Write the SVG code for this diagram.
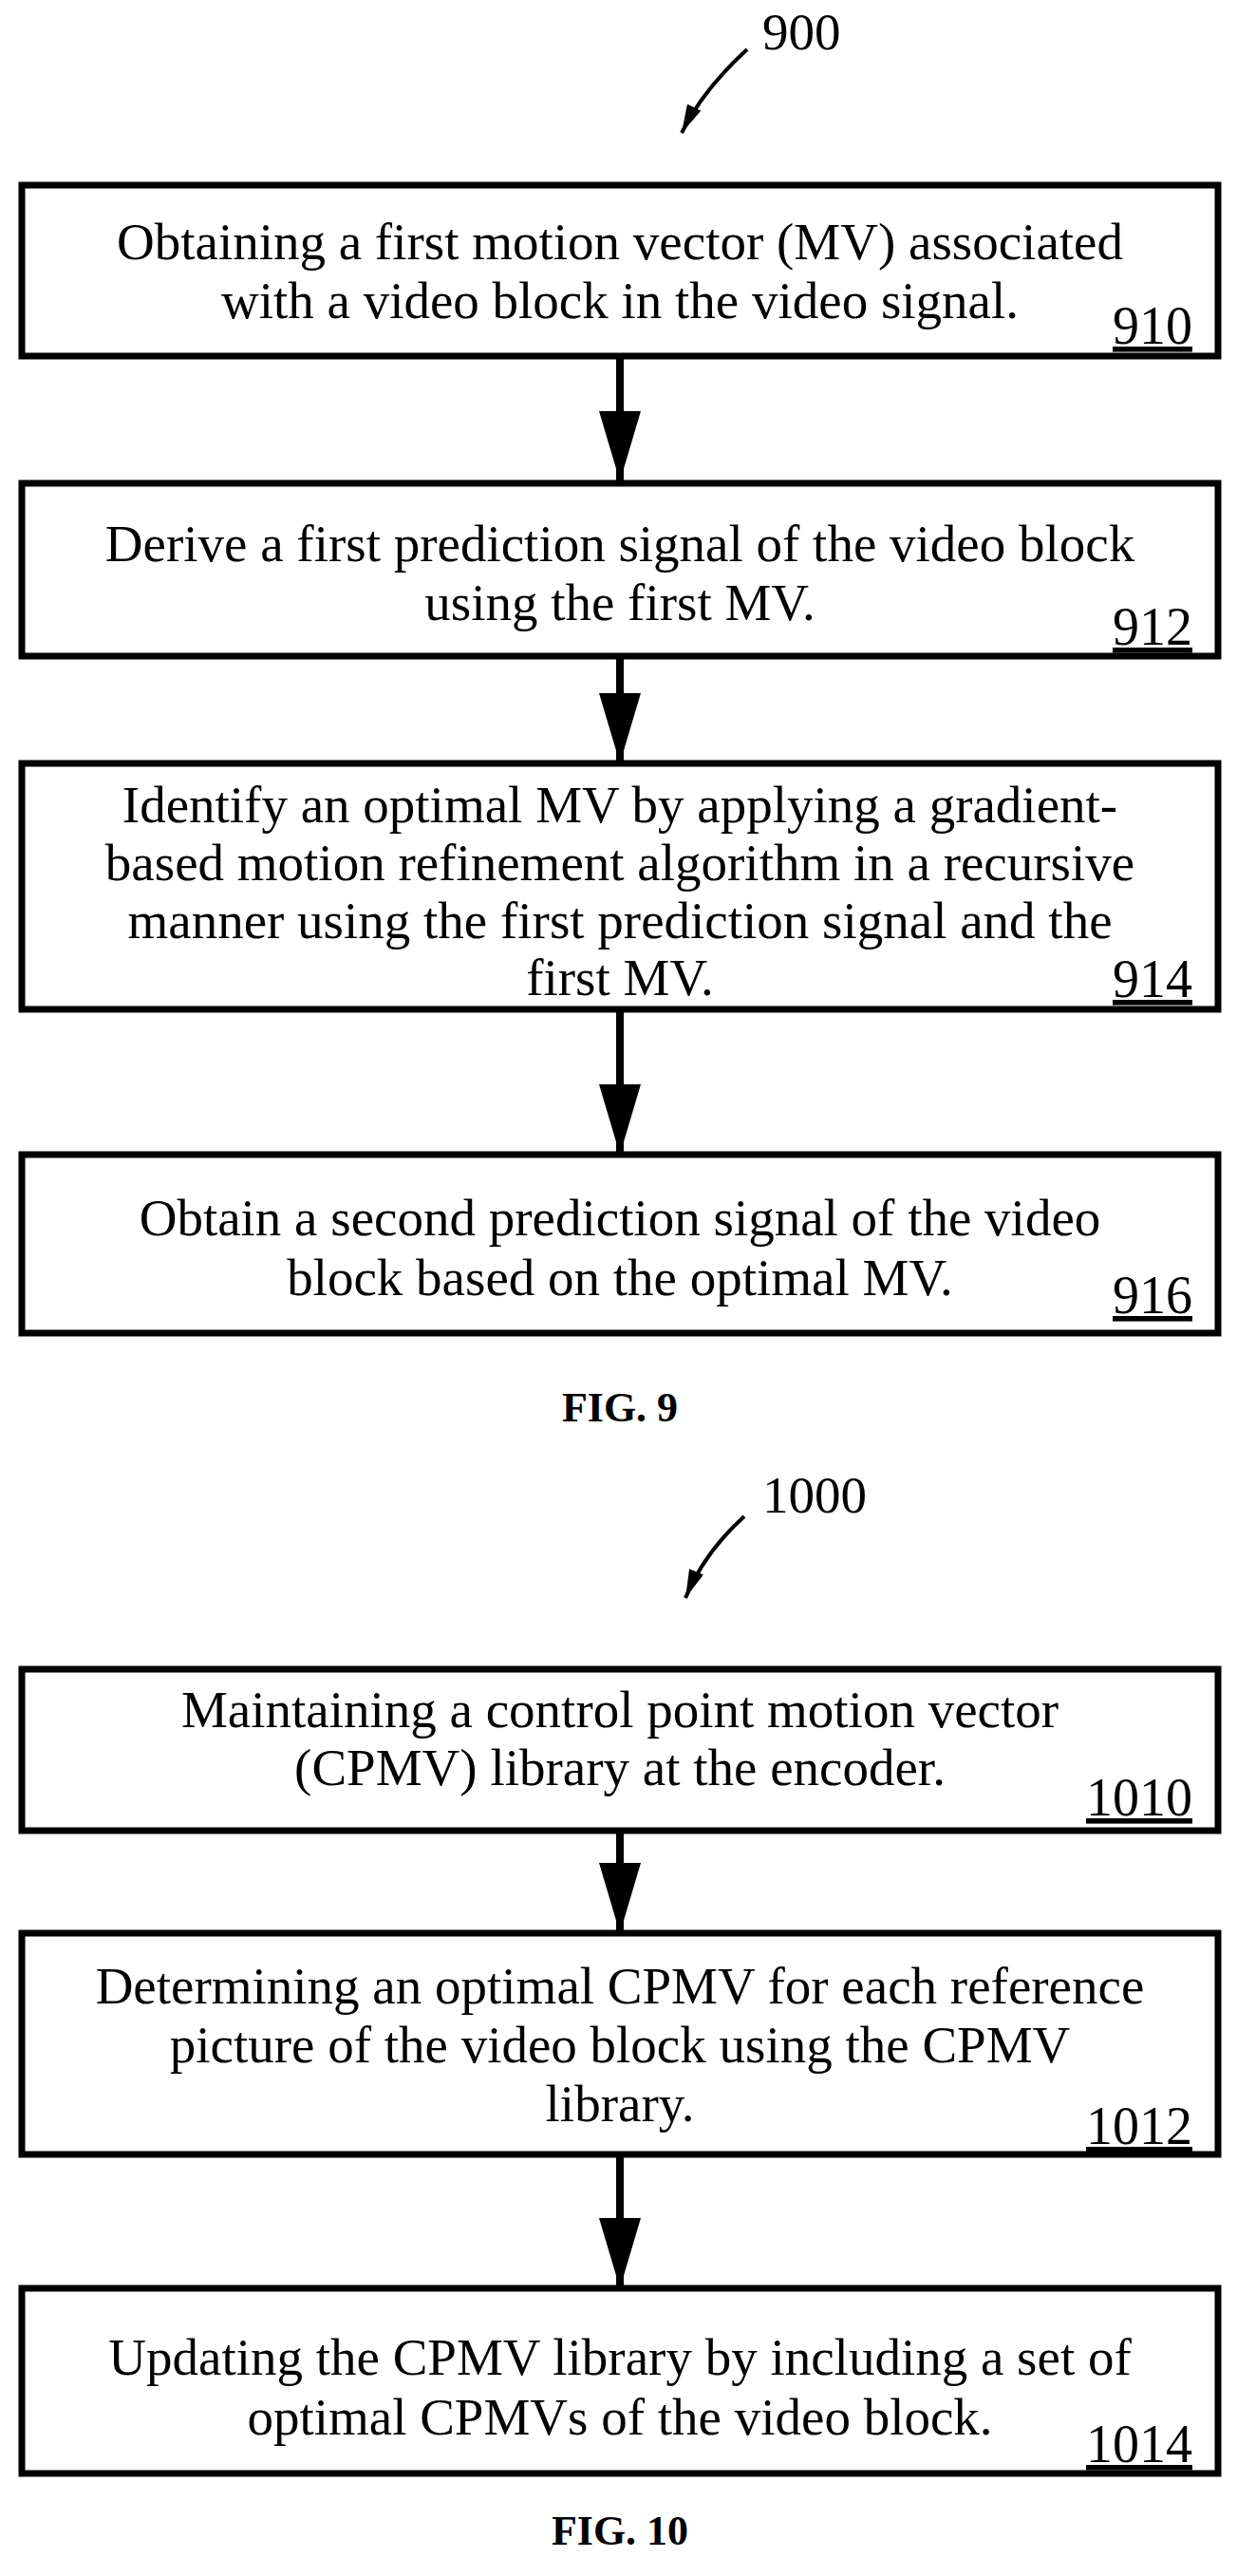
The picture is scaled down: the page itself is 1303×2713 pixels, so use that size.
<svg xmlns="http://www.w3.org/2000/svg" width="1303" height="2713" viewBox="0 0 1303 2713">
<style>
.b{fill:#fff;stroke:#000;stroke-width:7}
.t{font-family:"Liberation Serif",serif;font-size:55px;text-anchor:middle;fill:#000}
.n{font-family:"Liberation Serif",serif;font-size:56px;text-anchor:end;text-decoration:underline;fill:#000}
.f{font-family:"Liberation Serif",serif;font-size:44px;font-weight:bold;text-anchor:middle;fill:#000}
.c{stroke:#000;stroke-width:8;fill:none}
</style>
<defs><marker id="ah" markerUnits="userSpaceOnUse" markerWidth="74" markerHeight="44" refX="74" refY="22" orient="auto" viewBox="0 0 74 44"><path d="M0,0 L74,22 L0,44 Z" fill="#000"/></marker>
<marker id="sh" markerUnits="userSpaceOnUse" markerWidth="30" markerHeight="16" refX="30" refY="8" orient="auto" viewBox="0 0 30 16"><path d="M0,0 L30,8 L0,16 Z" fill="#000"/></marker></defs>
<rect width="1303" height="2713" fill="#fff"/>
<g id="connectors">
<line class="c" x1="653" y1="375" x2="653" y2="507" marker-end="url(#ah)"/>
<line class="c" x1="653" y1="691" x2="653" y2="804" marker-end="url(#ah)"/>
<line class="c" x1="653" y1="1063" x2="653" y2="1216" marker-end="url(#ah)"/>
<line class="c" x1="653" y1="1928" x2="653" y2="2036" marker-end="url(#ah)"/>
<line class="c" x1="653" y1="2269" x2="653" y2="2410" marker-end="url(#ah)"/>
<path d="M787,52 Q740,95 718,140" style="stroke:#000;stroke-width:4;fill:none" marker-end="url(#sh)"/>
<path d="M784,1597 Q742,1635 722,1683" style="stroke:#000;stroke-width:4;fill:none" marker-end="url(#sh)"/>
</g>
<text class="t" x="803" y="52" style="text-anchor:start">900</text>
<text class="t" x="803" y="1593" style="text-anchor:start">1000</text>
<g id="n910"><rect class="b" x="23" y="195" width="1260" height="180"/>
<text class="t" x="653" y="273">Obtaining a first motion vector (MV) associated</text>
<text class="t" x="653" y="335">with a video block in the video signal.</text>
<text class="n" x="1256" y="362">910</text></g>
<g id="n912"><rect class="b" x="23" y="509" width="1260" height="182"/>
<text class="t" x="653" y="591">Derive a first prediction signal of the video block</text>
<text class="t" x="653" y="653">using the first MV.</text>
<text class="n" x="1256" y="679">912</text></g>
<g id="n914"><rect class="b" x="23" y="804" width="1260" height="259"/>
<text class="t" x="653" y="866">Identify an optimal MV by applying a gradient-</text>
<text class="t" x="653" y="927">based motion refinement algorithm in a recursive</text>
<text class="t" x="653" y="988">manner using the first prediction signal and the</text>
<text class="t" x="653" y="1048">first MV.</text>
<text class="n" x="1256" y="1050">914</text></g>
<g id="n916"><rect class="b" x="23" y="1216" width="1260" height="188"/>
<text class="t" x="653" y="1301">Obtain a second prediction signal of the video</text>
<text class="t" x="653" y="1364">block based on the optimal MV.</text>
<text class="n" x="1256" y="1383">916</text></g>
<text class="f" x="653" y="1497">FIG. 9</text>
<g id="n1010"><rect class="b" x="23" y="1758" width="1260" height="170"/>
<text class="t" x="653" y="1819">Maintaining a control point motion vector</text>
<text class="t" x="653" y="1880">(CPMV) library at the encoder.</text>
<text class="n" x="1256" y="1912">1010</text></g>
<g id="n1012"><rect class="b" x="23" y="2036" width="1260" height="233"/>
<text class="t" x="653" y="2110">Determining an optimal CPMV for each reference</text>
<text class="t" x="653" y="2172">picture of the video block using the CPMV</text>
<text class="t" x="653" y="2234">library.</text>
<text class="n" x="1256" y="2258">1012</text></g>
<g id="n1014"><rect class="b" x="23" y="2410" width="1260" height="195"/>
<text class="t" x="653" y="2501">Updating the CPMV library by including a set of</text>
<text class="t" x="653" y="2564">optimal CPMVs of the video block.</text>
<text class="n" x="1256" y="2593">1014</text></g>
<text class="f" x="653" y="2680">FIG. 10</text>
</svg>
